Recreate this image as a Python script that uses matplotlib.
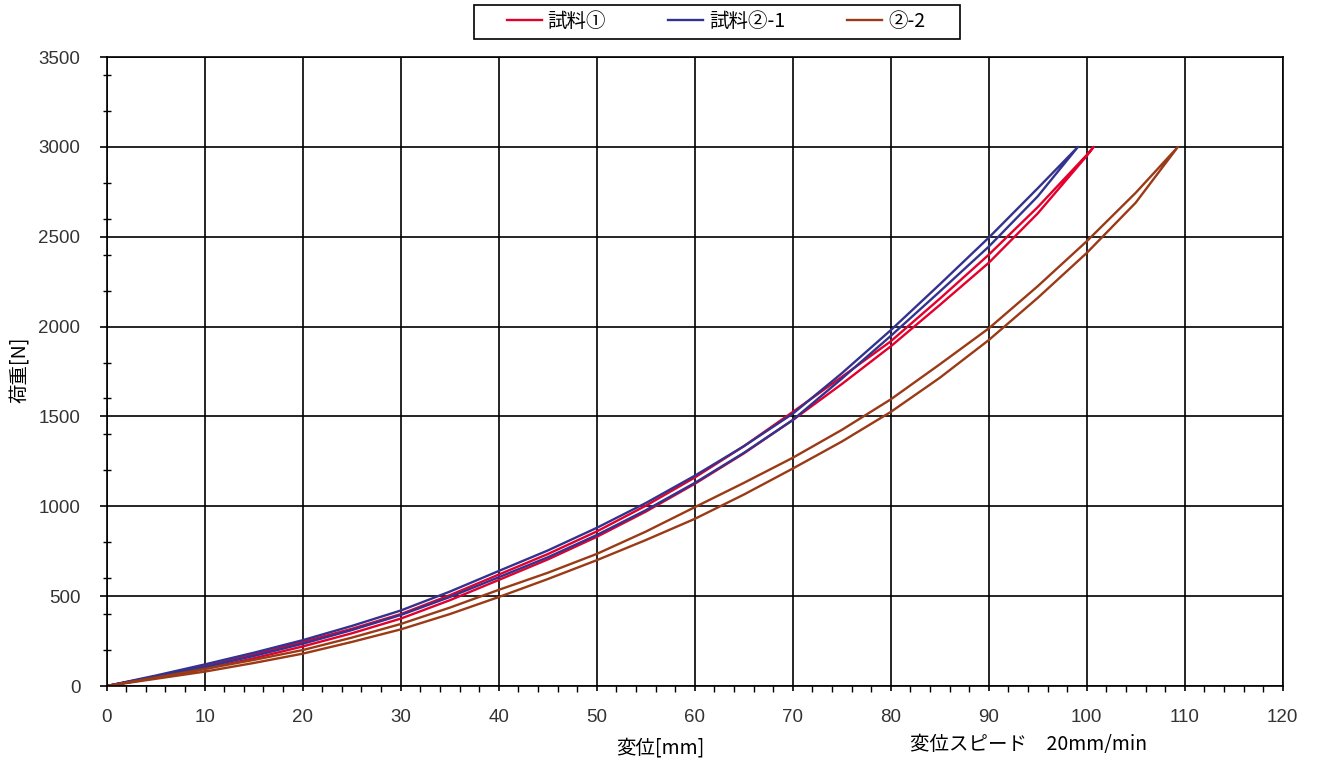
"""Load-displacement hysteresis loops (試料① / 試料②-1 / ②-2)."""

import matplotlib

matplotlib.use("Agg")
import matplotlib.pyplot as plt
from matplotlib.patches import Rectangle
from matplotlib.ticker import MultipleLocator

plt.rcParams["font.family"] = ["Liberation Sans", "Noto Sans CJK JP", "DejaVu Sans"]
plt.rcParams["axes.unicode_minus"] = False

CJK = ["Noto Sans CJK JP", "DejaVu Sans"]

# 試料①  (upper / lower branch of the loop)
s1_disp = [0, 5, 10, 15, 20, 25, 30, 35, 40, 45, 50, 55, 60, 65, 70, 75, 80, 85, 90, 95, 100, 100.7]
s1_load_up = [0, 53, 110, 174, 245, 318, 400, 505, 620, 734, 860, 1003, 1160, 1334, 1525,
              1720, 1918, 2155, 2400, 2665, 2955, 3000]
s1_load_down = [0, 46, 95, 154, 220, 293, 375, 477, 590, 704, 830, 970, 1125, 1294, 1480,
                1680, 1890, 2120, 2355, 2630, 2950, 3000]

# 試料②-1
s21_disp = [0, 5, 10, 15, 20, 25, 30, 35, 40, 45, 50, 55, 60, 65, 70, 75, 80, 85, 90, 95, 99.1]
s21_load_up = [0, 58, 120, 185, 255, 334, 420, 525, 640, 754, 880, 1018, 1170, 1334, 1515,
               1740, 1980, 2235, 2495, 2770, 3000]
s21_load_down = [0, 51, 105, 167, 235, 311, 395, 495, 605, 716, 840, 978, 1130, 1297, 1480,
                 1710, 1948, 2195, 2445, 2725, 3000]

# ②-2
s22_disp = [0, 5, 10, 15, 20, 25, 30, 35, 40, 45, 50, 55, 60, 65, 70, 75, 80, 85, 90, 95,
            100, 105, 109.3]
s22_load_up = [0, 47, 95, 145, 200, 269, 345, 436, 535, 630, 735, 859, 995, 1130, 1270,
               1425, 1595, 1790, 1990, 2225, 2475, 2745, 3000]
s22_load_down = [0, 40, 80, 128, 180, 245, 315, 400, 495, 595, 700, 812, 930, 1065, 1210,
                 1360, 1525, 1715, 1925, 2160, 2410, 2690, 3000]

labels = ["試料①", "試料②-1", "②-2"]
colors = ["#E3002D", "#33338F", "#9A3A16"]

x_ticks = list(range(0, 121, 10))
y_ticks = list(range(0, 3501, 500))


def loop(xs, up, down):
    # go out along one branch and come back along the other
    return list(xs) + list(xs[::-1][1:]), list(up) + list(down[::-1][1:])


fig = plt.figure(figsize=(13.17, 7.67), dpi=100)
ax = fig.add_axes([0.081, 0.1056, 0.893, 0.82])

series = [
    loop(s1_disp, s1_load_up, s1_load_down),
    loop(s21_disp, s21_load_up, s21_load_down),
    loop(s22_disp, s22_load_up, s22_load_down),
]
for (xs, ys), label, color in zip(series, labels, colors):
    ax.plot(xs, ys, color=color, linewidth=1.7, label=label)

ax.set_xlim(0, 120)
ax.set_ylim(0, 3500)
ax.set_xticks(x_ticks)
ax.set_yticks(y_ticks)
ax.xaxis.set_minor_locator(MultipleLocator(2))
ax.yaxis.set_minor_locator(MultipleLocator(200))
ax.grid(True, which="major", color="#000000", linewidth=1.2)
ax.set_axisbelow(True)

for spine in ax.spines.values():
    spine.set_color("#000000")
    spine.set_linewidth(1.2)

ax.tick_params(axis="both", which="major", labelsize=13.5, labelcolor="#333333", width=1.2)
ax.tick_params(axis="x", which="major", direction="out", length=3.5, pad=13)
ax.tick_params(axis="y", which="major", direction="out", length=5, pad=14)
ax.tick_params(axis="x", which="minor", direction="out", length=4, width=1.0)
ax.tick_params(axis="y", which="minor", direction="inout", length=6, width=1.0)

fig.text(0.0152, 0.518, "荷重[N]", fontsize=14, rotation=90, ha="center", va="center",
         family=CJK)
fig.text(0.501, 0.025, "変位[mm]", fontsize=14, ha="center", va="center", family=CJK)
fig.text(0.781, 0.029, "変位スピード　20mm/min", fontsize=14, ha="center", va="center",
         family=CJK)

leg = fig.legend(loc="center", bbox_to_anchor=(0.5437, 0.9717), ncol=3,
                 prop={"family": CJK, "size": 14}, frameon=False,
                 handlelength=1.8, handletextpad=0.3, columnspacing=3.2)

# legend box drawn separately so the padding matches the original
fig.patches.append(Rectangle((474 / 1317, 1 - 39 / 767), 486 / 1317, 34 / 767,
                             transform=fig.transFigure, fill=False,
                             edgecolor="#000000", linewidth=1.2))

fig.savefig("out.png", dpi=100, facecolor="white")
